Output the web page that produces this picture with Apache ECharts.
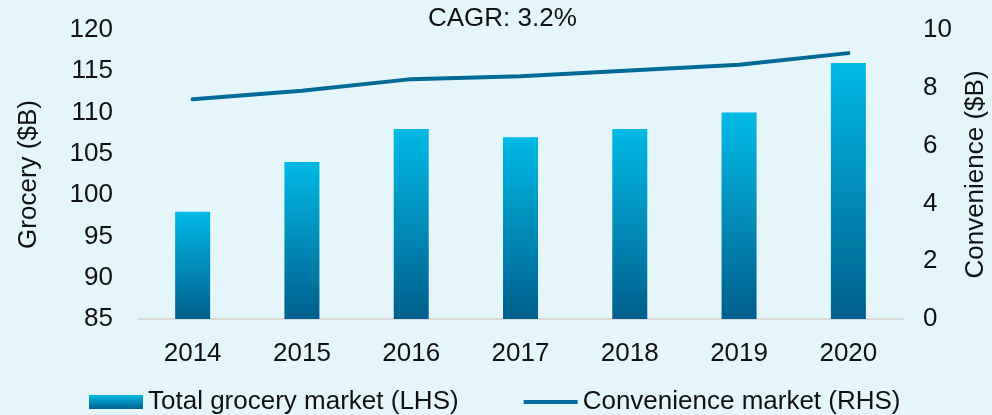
<!DOCTYPE html>
<html>
<head>
<meta charset="utf-8">
<script src="https://cdn.jsdelivr.net/npm/echarts@6/dist/echarts.min.js"></script>
<style>
html,body{margin:0;padding:0;background:#E5F6FB;}
#main{width:992px;height:415px;}
</style>
</head>
<body>
<div id="main"></div>
<script>
var years = ['2014','2015','2016','2017','2018','2019','2020'];
var grocery = [98, 104, 108, 107, 108, 110, 116];
var convenience = [7.6, 7.9, 8.3, 8.4, 8.6, 8.8, 9.2];
var cagrText = 'CAGR: 3.2%';

var myChart = echarts.init(document.getElementById('main'));
var font = 'Liberation Sans, Arial, sans-serif';
var barColor = new echarts.graphic.LinearGradient(0, 0, 0, 1, [
	{offset: 0, color: '#00BAE6'},
	{offset: 1, color: '#005F8C'}
]);
// thin line icon for legend, padded to full box height
var lineIcon = 'path://M0,0 M0,5 L54,5 L54,9 L0,9 Z M54,14';
var option = {
	backgroundColor: '#E5F6FB',
	textStyle: {fontFamily: font},
	graphic: [{
		type: 'text',
		left: 428,
		top: 6,
		style: {text: cagrText, fontSize: 26, fontFamily: font, fill: '#111'}
	}],
	legend: {
		left: 84,
		top: 384,
		itemWidth: 54,
		itemHeight: 14,
		itemGap: 65,
		textStyle: {fontSize: 26, color: '#111', fontFamily: font},
		data: [
			{name: 'Total grocery market (LHS)', icon: 'rect'},
			{name: 'Convenience market (RHS)', icon: lineIcon, itemStyle: {color: '#006A96'}}
		]
	},
	grid: {left: 138, right: 89, top: 30, bottom: 96, outerBoundsMode: 'none'},
	xAxis: {
		type: 'category',
		data: years,
		axisLine: {lineStyle: {color: '#D9D9D9', width: 2}},
		axisTick: {show: false},
		axisLabel: {fontSize: 26, color: '#111', margin: 22}
	},
	yAxis: [{
		type: 'value',
		min: 85, max: 120, interval: 5,
		name: 'Grocery ($B)',
		nameLocation: 'middle',
		nameGap: 96,
		nameTextStyle: {fontSize: 26, color: '#111'},
		splitLine: {show: false},
		axisLine: {show: false},
		axisLabel: {fontSize: 26, color: '#111', margin: 25}
	}, {
		type: 'value',
		min: 0, max: 10, interval: 2,
		name: 'Convenience ($B)',
		nameLocation: 'middle',
		nameGap: 60,
		nameRotate: 90,
		nameTextStyle: {fontSize: 26, color: '#111'},
		splitLine: {show: false},
		axisLine: {show: false},
		axisLabel: {fontSize: 26, color: '#111', margin: 20}
	}],
	series: [{
		name: 'Total grocery market (LHS)',
		type: 'bar',
		yAxisIndex: 0,
		barWidth: 35,
		data: grocery,
		itemStyle: {color: barColor}
	}, {
		name: 'Convenience market (RHS)',
		type: 'line',
		yAxisIndex: 1,
		data: convenience,
		symbol: 'none',
		lineStyle: {color: '#006A96', width: 4, cap: 'round'},
		itemStyle: {color: '#006A96'}
	}]
};
myChart.setOption(option);
</script>
</body>
</html>
